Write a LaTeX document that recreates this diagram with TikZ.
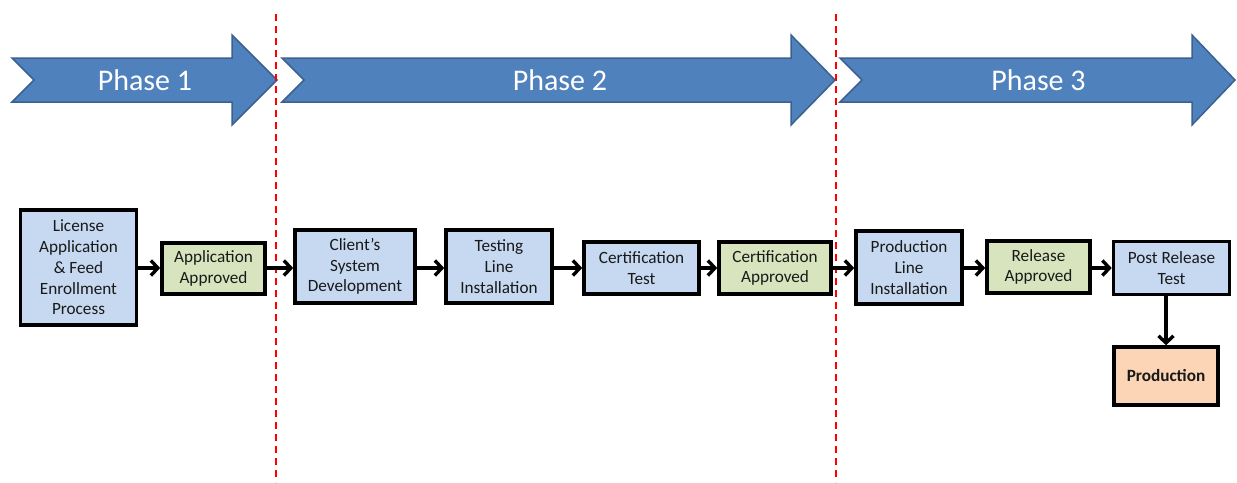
\documentclass[tikz,border=0pt]{standalone}
\usepackage{fontspec}
\setmainfont{Carlito}
\usetikzlibrary{arrows.meta}
\definecolor{phasefill}{HTML}{4F81BD}
\definecolor{phaseedge}{HTML}{3A6191}
\definecolor{bluebox}{HTML}{C6D9F1}
\definecolor{greenbox}{HTML}{D7E4BD}
\definecolor{orangebox}{HTML}{FBD5B5}
\definecolor{dashred}{HTML}{FF0000}
\tikzset{
  phasearrow/.style={fill=phasefill, draw=phaseedge, line width=1.5pt, line join=miter},
  phaselabel/.style={text=white, font=\fontsize{30}{36}\selectfont, inner sep=0pt},
  reddash/.style={color=dashred, line width=2pt, dash pattern=on 7pt off 5pt},
  box/.style={draw=black, line width=3.6pt, align=center, inner sep=0pt,
    font=\fontsize{17.2}{20.8}\selectfont, text=black!90},
  bluestep/.style={box, fill=bluebox},
  greenstep/.style={box, fill=greenbox},
  orangestep/.style={box, fill=orangebox},
  conn/.style={draw=black, line width=3.4pt, -{Straight Barb[length=7pt,width=15pt,line width=3.4pt]}}
}
\begin{document}
\begin{tikzpicture}[x=1pt,y=-1pt]
\useasboundingbox (0,0) rectangle (1237,482);
% dividers
\coordinate (d1t) at (275.5,14);
\coordinate (d1b) at (275.5,482);
\coordinate (d2t) at (835.5,14);
\coordinate (d2b) at (835.5,482);
% phase arrows
\draw[phasearrow] (12,58) -- (232,58) -- (232,35) -- (277,80) -- (232,125) -- (232,102) -- (12,102) -- (34,80) -- cycle;
\draw[phasearrow] (282,58) -- (791,58) -- (791,35) -- (835,80) -- (791,125) -- (791,102) -- (282,102) -- (304,80) -- cycle;
\draw[phasearrow] (840,58) -- (1192,58) -- (1192,35) -- (1235,80) -- (1192,125) -- (1192,102) -- (840,102) -- (862,80) -- cycle;
\node[phaselabel] (ph1) at (145,80) {Phase 1};
\node[phaselabel] (ph2) at (560,80) {Phase 2};
\node[phaselabel] (ph3) at (1038.5,80) {Phase 3};
\draw[reddash] (d1t) -- (d1b);
\draw[reddash] (d2t) -- (d2b);
% boxes
\node[bluestep, minimum width=116pt, minimum height=115pt] (b1) at (78.5,267.5) {License\\Application\\\&~Feed\\Enrollment\\Process};
\node[greenstep, minimum width=103pt, minimum height=51pt] (b2) at (213.5,268.5) {Application\\Approved};
\node[bluestep, minimum width=120pt, minimum height=73pt] (b3) at (355,266.5) {Client’s\\System\\Development};
\node[bluestep, minimum width=106pt, minimum height=73pt] (b4) at (499,266.5) {Testing\\Line\\Installation};
\node[bluestep, minimum width=115pt, minimum height=52pt] (b5) at (641.5,268) {Certification\\Test};
\node[greenstep, minimum width=112pt, minimum height=52pt] (b6) at (775,268) {Certification\\Approved};
\node[bluestep, minimum width=106pt, minimum height=73pt] (b7) at (909,267.5) {Production\\Line\\Installation};
\node[greenstep, minimum width=103pt, minimum height=52pt] (b8) at (1038.5,267) {Release\\Approved};
\node[bluestep, minimum width=116pt, minimum height=53pt] (b9) at (1171.5,268) {Post Release\\Test};
\node[orangestep, minimum width=104pt, minimum height=58pt, font=\fontsize{17.2}{20.8}\selectfont\bfseries] (b10) at (1166,376) {Production};
% connectors
\draw[conn] (b1.east |- 0,268) -- (b2.west |- 0,268);
\draw[conn] (b2.east |- 0,268) -- (b3.west |- 0,268);
\draw[conn] (b3.east |- 0,268) -- (b4.west |- 0,268);
\draw[conn] (b4.east |- 0,268) -- (b5.west |- 0,268);
\draw[conn] (b5.east |- 0,268) -- (b6.west |- 0,268);
\draw[conn] (b6.east |- 0,268) -- (b7.west |- 0,268);
\draw[conn] (b7.east |- 0,268) -- (b8.west |- 0,268);
\draw[conn] (b8.east |- 0,268) -- (b9.west |- 0,268);
\draw[conn] (b10.north |- b9.south) -- (b10.north);
\end{tikzpicture}
\end{document}
